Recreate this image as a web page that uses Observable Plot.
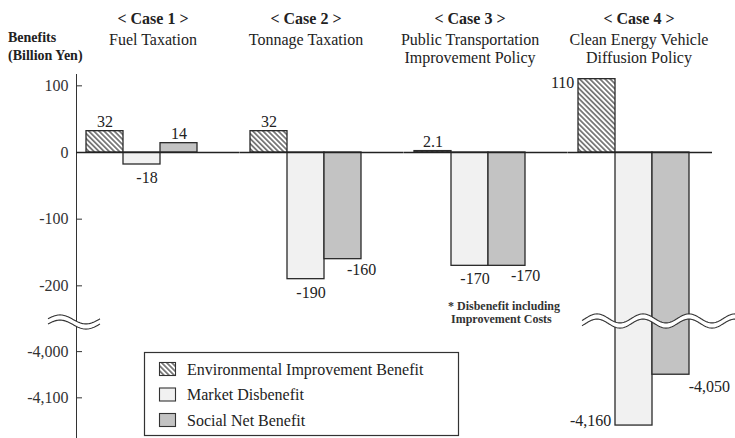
<!DOCTYPE html>
<html><head><meta charset="utf-8">
<script src="https://cdn.jsdelivr.net/npm/d3@7"></script>
<script src="https://cdn.jsdelivr.net/npm/@observablehq/plot@0.6"></script>
<style>
html,body{margin:0;padding:0;background:#fff;}
#chart{position:relative;width:735px;height:438px;}
</style></head>
<body>
<svg width="0" height="0" style="position:absolute">
 <defs>
  <pattern id="hatch" patternUnits="userSpaceOnUse" width="3.6" height="3.6" patternTransform="rotate(-45)">
   <rect width="3.6" height="3.6" fill="#fff"/>
   <line x1="1.8" y1="-1" x2="1.8" y2="4.6" stroke="#222" stroke-width="1.1"/>
  </pattern>
 </defs>
</svg>
<div id="chart"></div>
<script>
// ---- data ----
const cases = ["Case 1", "Case 2", "Case 3", "Case 4"];
const policies = ["Fuel Taxation", "Tonnage Taxation", "Public Transportation\nImprovement Policy", "Clean Energy Vehicle\nDiffusion Policy"];
const series = ["Environmental Improvement Benefit", "Market Disbenefit", "Social Net Benefit"];
const envBenefit = [32, 32, 2.1, 110];
const marketDisbenefit = [-18, -190, -170, -4160];
const socialNet = [14, -160, -170, -4050];
const yTicks = [100, 0, -100, -200, -4000, -4100];
const yLabelLines = ["Benefits", "(Billion Yen)"];
const noteText = "* Disbenefit including\n Improvement Costs";

const rows = cases.flatMap((c, i) => [
  {case: c, series: series[0], value: envBenefit[i]},
  {case: c, series: series[1], value: marketDisbenefit[i]},
  {case: c, series: series[2], value: socialNet[i]}
]);

// ---- layout ----
const W = 735, H = 438;
const mL = 75, mR = 34, mT = 74;
const fxPad = 0.1985, xInset = 10;
const fxBand = d3.scaleBand(cases, [mL, W - mR]).paddingInner(fxPad).paddingOuter(0);
const facetBand = fxBand.bandwidth();
const facetGap = fxBand.step() - facetBand;
const half = (facetBand - 2 * xInset) / 3 / 2;
const titleShift = [11, 0, 0, 5];

const fmt = v => v.toLocaleString("en-US");
const font = "Liberation Serif, Times New Roman, serif";
const lab = {fx: "case", x: "series", y: "value", text: d => fmt(d.value), fontSize: 16, fill: "#222"};
const isLast = d => d.case === cases[3];

const plot = Plot.plot({
  width: W, height: H,
  marginLeft: mL, marginRight: mR, marginTop: mT, marginBottom: 0,
  style: {fontFamily: font, fontSize: "16px", color: "#333", background: "#fff"},
  fx: {domain: cases, paddingInner: fxPad, paddingOuter: 0, axis: null},
  x: {domain: series, padding: 0, insetLeft: xInset, insetRight: xInset, axis: null},
  y: {type: "linear", domain: [117, -255, -3937, -4188], range: [74, 322, 322, 438],
      ticks: yTicks, tickFormat: fmt, tickSize: -6, tickPadding: 14, line: true, label: null},
  color: {type: "ordinal", domain: series, range: ["url(#hatch)", "#f1f1f1", "#c3c3c3"]},
  marks: [
    Plot.barY(rows, {fx: "case", x: "series", y1: 0, y2: "value", fill: "series", stroke: "#2a2a2a", strokeWidth: 1.3}),
    Plot.ruleY(cases.slice(0, 3), {fx: d => d, y: () => 0, stroke: "#222", strokeWidth: 1.3, insetRight: -facetGap}),
    Plot.ruleY(cases.slice(3), {fx: d => d, y: () => 0, stroke: "#222", strokeWidth: 1.3, insetRight: -13}),
    // value labels
    Plot.text(rows.filter(d => d.value > 0 && !isLast(d)), {...lab, lineAnchor: "bottom", dy: -4}),
    Plot.text(rows.filter(d => d.series === series[1] && !isLast(d)), {...lab, lineAnchor: "top", dy: 7, dx: 5}),
    Plot.text(rows.filter(d => d.series === series[2] && d.value < 0 && !isLast(d)), {...lab, lineAnchor: "top", dy: 4, dx: half}),
    Plot.text(rows.filter(d => isLast(d) && d.series === series[0]), {...lab, textAnchor: "end", dx: -half - 4, lineAnchor: "middle", dy: 4}),
    Plot.text(rows.filter(d => isLast(d) && d.series === series[1]), {...lab, textAnchor: "end", dx: -half - 4, lineAnchor: "bottom", dy: 0}),
    Plot.text(rows.filter(d => isLast(d) && d.series === series[2]), {...lab, textAnchor: "start", dx: half - 1, lineAnchor: "top", dy: 6}),
    // case titles
    ...cases.map((c, i) => Plot.text([c], {fx: d => d, frameAnchor: "top", text: d => `< ${d} >`,
      fontWeight: "bold", fontSize: 16, fill: "#222", lineAnchor: "middle", dy: -56, dx: titleShift[i]})),
    ...cases.map((c, i) => Plot.text([i], {fx: i2 => cases[i2], frameAnchor: "top", text: i2 => policies[i2],
      fontSize: 16, fill: "#222", lineAnchor: "top", lineHeight: 1.125, dy: -42, dx: titleShift[i]})),
    // note under case 3
    Plot.text([noteText], {fx: () => cases[2], x: () => series[2], y: () => -221, text: d => d,
      fontSize: 12, fontWeight: "bold", fill: "#333", textAnchor: "start", lineAnchor: "top", lineHeight: 1.15, dx: -59})
  ]
});
document.getElementById("chart").append(plot);

// ---- decorations: axis label, break marks, legend ----
const svg = d3.select(plot);
const yS = plot.scale("y"), fxS = plot.scale("fx"), cS = plot.scale("color");
const yb = yS.apply(-1000);

yLabelLines.forEach((t, i) => {
  svg.append("text").attr("x", 8).attr("y", 37 + i * 18).attr("dy", "0.35em").attr("text-anchor", "start")
    .attr("font-size", 14).attr("font-weight", "bold").attr("fill", "#222").text(t);
});

function drawWave(x0, x1, phaseX, period, amp, yc) {
  const f = x => yc - amp * Math.sin(2 * Math.PI * (x - phaseX) / period);
  const xs = d3.range(x0, x1 + 0.01, 1);
  const g = svg.append("g");
  g.append("path").attr("d", d3.area().x(x => x).y0(x => f(x) - 2.6).y1(x => f(x) + 2.6)(xs)).attr("fill", "#fff");
  [-2.6, 2.6].forEach(o => g.append("path").attr("d", d3.line().x(x => x).y(x => f(x) + o)(xs))
    .attr("fill", "none").attr("stroke", "#333").attr("stroke-width", 1.1));
}
drawWave(48, 100, 47, 52, 4.5, yb);
drawWave(fxS.apply(cases[3]) + 14, W, 585.5, 46, 4.5, yb - 1);

const lg = svg.append("g").attr("font-size", 16).attr("fill", "#222").attr("text-anchor", "start");
lg.append("rect").attr("x", 144.5).attr("y", 352.5).attr("width", 314).attr("height", 83)
  .attr("fill", "#fff").attr("stroke", "#333").attr("stroke-width", 1.2);
series.forEach((s, i) => {
  const cy = 369 + i * 25.5;
  lg.append("rect").attr("x", 159.5).attr("y", cy - 6.5).attr("width", 16).attr("height", 13)
    .attr("fill", cS.apply(s)).attr("stroke", "#333").attr("stroke-width", 1.1);
  lg.append("text").attr("x", 187).attr("y", cy).attr("dy", "0.35em").text(s);
});
</script>
</body></html>
